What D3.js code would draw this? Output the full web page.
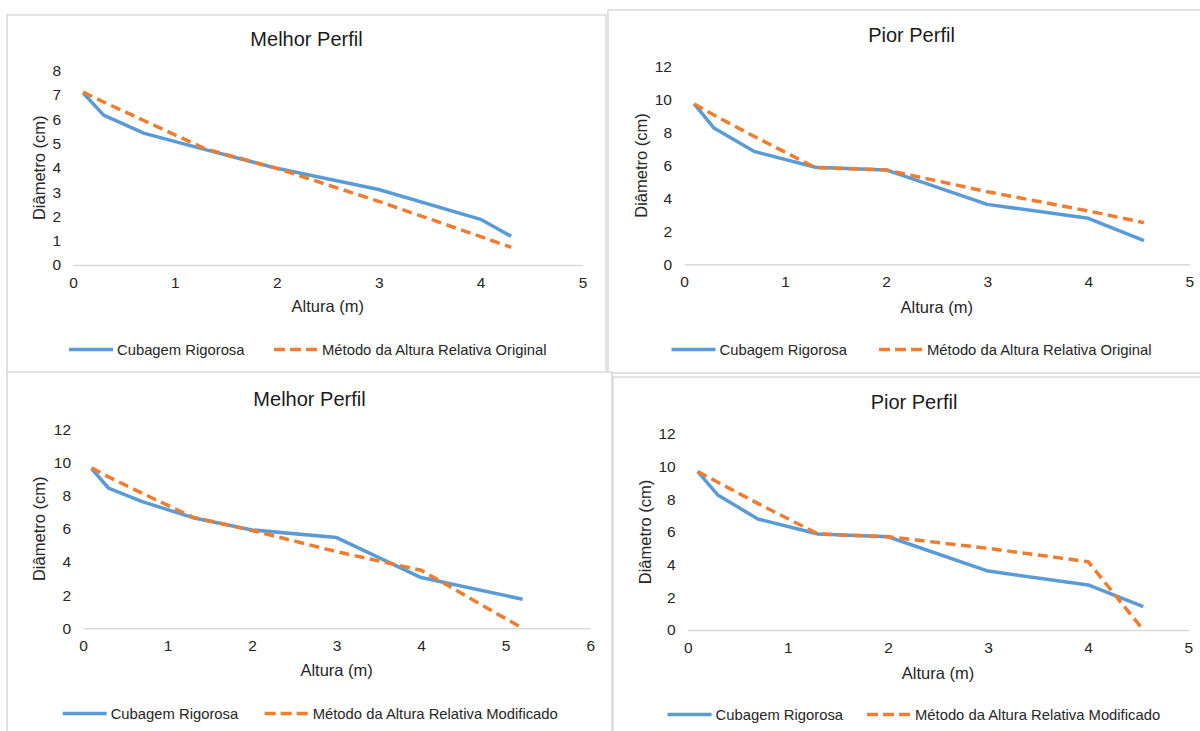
<!DOCTYPE html>
<html>
<head>
<meta charset="utf-8">
<script src="https://cdn.jsdelivr.net/npm/d3@7"></script>
<style>
  body { margin: 0; background: #fff; }
  text { font-family: "Liberation Sans", Arial, sans-serif; }
</style>
</head>
<body>
<script>
// alturas (m) e diametros (cm)
var alturas1 = [0.1, 0.3, 0.7, 1.3, 2, 3, 4, 4.3]
var cubagem1 = [7.08, 6.17, 5.42, 4.75, 3.98, 3.11, 1.88, 1.18]
var original1 = [7.12, 6.71, 5.94, 4.78, 3.98, 2.62, 1.17, 0.73]

var alturas2 = [0.1, 0.3, 0.7, 1.3, 2, 3, 4, 4.55]
var cubagem2 = [9.74, 8.26, 6.84, 5.89, 5.73, 3.64, 2.79, 1.44]
var original2 = [9.74, 9.05, 7.75, 5.87, 5.73, 4.41, 3.24, 2.53]

var alturas3 = [0.1, 0.3, 0.7, 1.3, 2, 3, 4, 5.2]
var cubagem3 = [9.63, 8.46, 7.64, 6.67, 5.93, 5.47, 3.06, 1.75]
var modificado3 = [9.68, 9.13, 8.14, 6.7, 5.9, 4.62, 3.5, 0]

var alturas4 = [0.1, 0.3, 0.7, 1.3, 2, 3, 4, 4.55]
var cubagem4 = [9.69, 8.27, 6.8, 5.88, 5.71, 3.61, 2.76, 1.43]
var modificado4 = [9.7, 9.05, 7.75, 5.88, 5.71, 5.0, 4.18, 0]

var xTicks5 = [0, 1, 2, 3, 4, 5]
var xTicks6 = [0, 1, 2, 3, 4, 5, 6]
var yTicks8 = [0, 1, 2, 3, 4, 5, 6, 7, 8]
var yTicks12 = [0, 2, 4, 6, 8, 10, 12]

var serieA = "Cubagem Rigorosa"
var serieOriginal = "Método da Altura Relativa Original"
var serieModificado = "Método da Altura Relativa Modificado"

var azul = "#5B9BD5", laranja = "#ED7D31"

// layout of each of the 4 boxes
var paineis = [
  { titulo: "Melhor Perfil", x: alturas1, a: cubagem1, b: original1, nomeB: serieOriginal,
    xt: xTicks5, yt: yTicks8,
    box: [7, 15, 606, 373], plot: [73, 70.7, 582.5, 265], titY: 38.5, xtitY: 306, ytitX: 39, legY: 349.5, leg: [69, 274] },
  { titulo: "Pior Perfil", x: alturas2, a: cubagem2, b: original2, nomeB: serieOriginal,
    xt: xTicks5, yt: yTicks12,
    box: [608, 10, 1215, 373], plot: [684, 66.7, 1189.4, 264.3], titY: 34.5, xtitY: 307, ytitX: 641, legY: 349.5, leg: [671.5, 879] },
  { titulo: "Melhor Perfil", x: alturas3, a: cubagem3, b: modificado3, nomeB: serieModificado,
    xt: xTicks6, yt: yTicks12,
    box: [7, 372, 612, 740], plot: [83.1, 429.3, 590.2, 628.3], titY: 398.5, xtitY: 670, ytitX: 39, legY: 713.5, leg: [62.7, 264.7] },
  { titulo: "Pior Perfil", x: alturas4, a: cubagem4, b: modificado4, nomeB: serieModificado,
    xt: xTicks5, yt: yTicks12,
    box: [613, 377, 1215, 740], plot: [687.7, 434, 1188.3, 630], titY: 402, xtitY: 672.5, ytitX: 645, legY: 714.5, leg: [667.6, 867] }
]

var svg = d3.select("body").append("svg")
  .attr("width", 1200)
  .attr("height", 731)

paineis.forEach(function(p) {
  var g = svg.append("g")

  g.append("rect")
    .attr("x", p.box[0]).attr("y", p.box[1])
    .attr("width", p.box[2] - p.box[0]).attr("height", p.box[3] - p.box[1])
    .attr("fill", "#fff")
    .attr("stroke", "#D9D9D9")
    .attr("stroke-width", 1.5)

  var x = d3.scaleLinear()
    .domain([0, d3.max(p.xt)])
    .range([p.plot[0], p.plot[2]])
  var y = d3.scaleLinear()
    .domain([0, d3.max(p.yt)])
    .range([p.plot[3], p.plot[1]])

  // eixo x
  var ax = g.append("g")
    .attr("transform", "translate(0," + p.plot[3] + ")")
    .call(d3.axisBottom(x).tickValues(p.xt).tickSize(0).tickPadding(12).tickFormat(d3.format("d")))
  ax.select(".domain").attr("stroke", "#D9D9D9").attr("stroke-width", 1.5)

  // eixo y
  var ay = g.append("g")
    .attr("transform", "translate(" + p.plot[0] + ",0)")
    .call(d3.axisLeft(y).tickValues(p.yt).tickSize(0).tickPadding(12).tickFormat(d3.format("d")))
  ay.select(".domain").remove()

  g.selectAll(".tick text")
    .attr("fill", "#262626")
    .style("font-size", "15.5px")
    .style("font-family", "'Liberation Sans', Arial, sans-serif")

  // titulos
  g.append("text")
    .attr("x", (p.box[0] + p.box[2]) / 2).attr("y", p.titY)
    .attr("text-anchor", "middle").attr("dominant-baseline", "central")
    .attr("fill", "#1a1a1a")
    .style("font-size", "20px")
    .text(p.titulo)

  g.append("text")
    .attr("x", (p.plot[0] + p.plot[2]) / 2).attr("y", p.xtitY)
    .attr("text-anchor", "middle").attr("dominant-baseline", "central")
    .attr("fill", "#262626")
    .style("font-size", "16.5px")
    .text("Altura (m)")

  var cy = (p.plot[1] + p.plot[3]) / 2
  g.append("text")
    .attr("transform", "translate(" + p.ytitX + "," + cy + ") rotate(-90)")
    .attr("text-anchor", "middle").attr("dominant-baseline", "central")
    .attr("fill", "#262626")
    .style("font-size", "16.5px")
    .text("Diâmetro (cm)")

  // linhas
  var linha = d3.line()
    .x(function(d) { return x(d[0]) })
    .y(function(d) { return y(d[1]) })

  g.append("path")
    .datum(d3.zip(p.x, p.a))
    .attr("d", linha)
    .attr("fill", "none")
    .attr("stroke", azul)
    .attr("stroke-width", 3.5)
    .attr("stroke-linejoin", "round")

  g.append("path")
    .datum(d3.zip(p.x, p.b))
    .attr("d", linha)
    .attr("fill", "none")
    .attr("stroke", laranja)
    .attr("stroke-width", 3.5)
    .attr("stroke-dasharray", "10,5.5")

  // legenda
  var itens = [
    { nome: serieA, cor: azul, dash: null, x0: p.leg[0] },
    { nome: p.nomeB, cor: laranja, dash: "11,5", x0: p.leg[1] }
  ]
  itens.forEach(function(it) {
    g.append("line")
      .attr("x1", it.x0).attr("x2", it.x0 + 44)
      .attr("y1", p.legY).attr("y2", p.legY)
      .attr("stroke", it.cor)
      .attr("stroke-width", 3.5)
      .attr("stroke-dasharray", it.dash)
    g.append("text")
      .attr("x", it.x0 + 48).attr("y", p.legY)
      .attr("dominant-baseline", "central")
      .attr("fill", "#262626")
      .style("font-size", "14.8px")
      .text(it.nome)
  })
})
</script>
</body>
</html>
